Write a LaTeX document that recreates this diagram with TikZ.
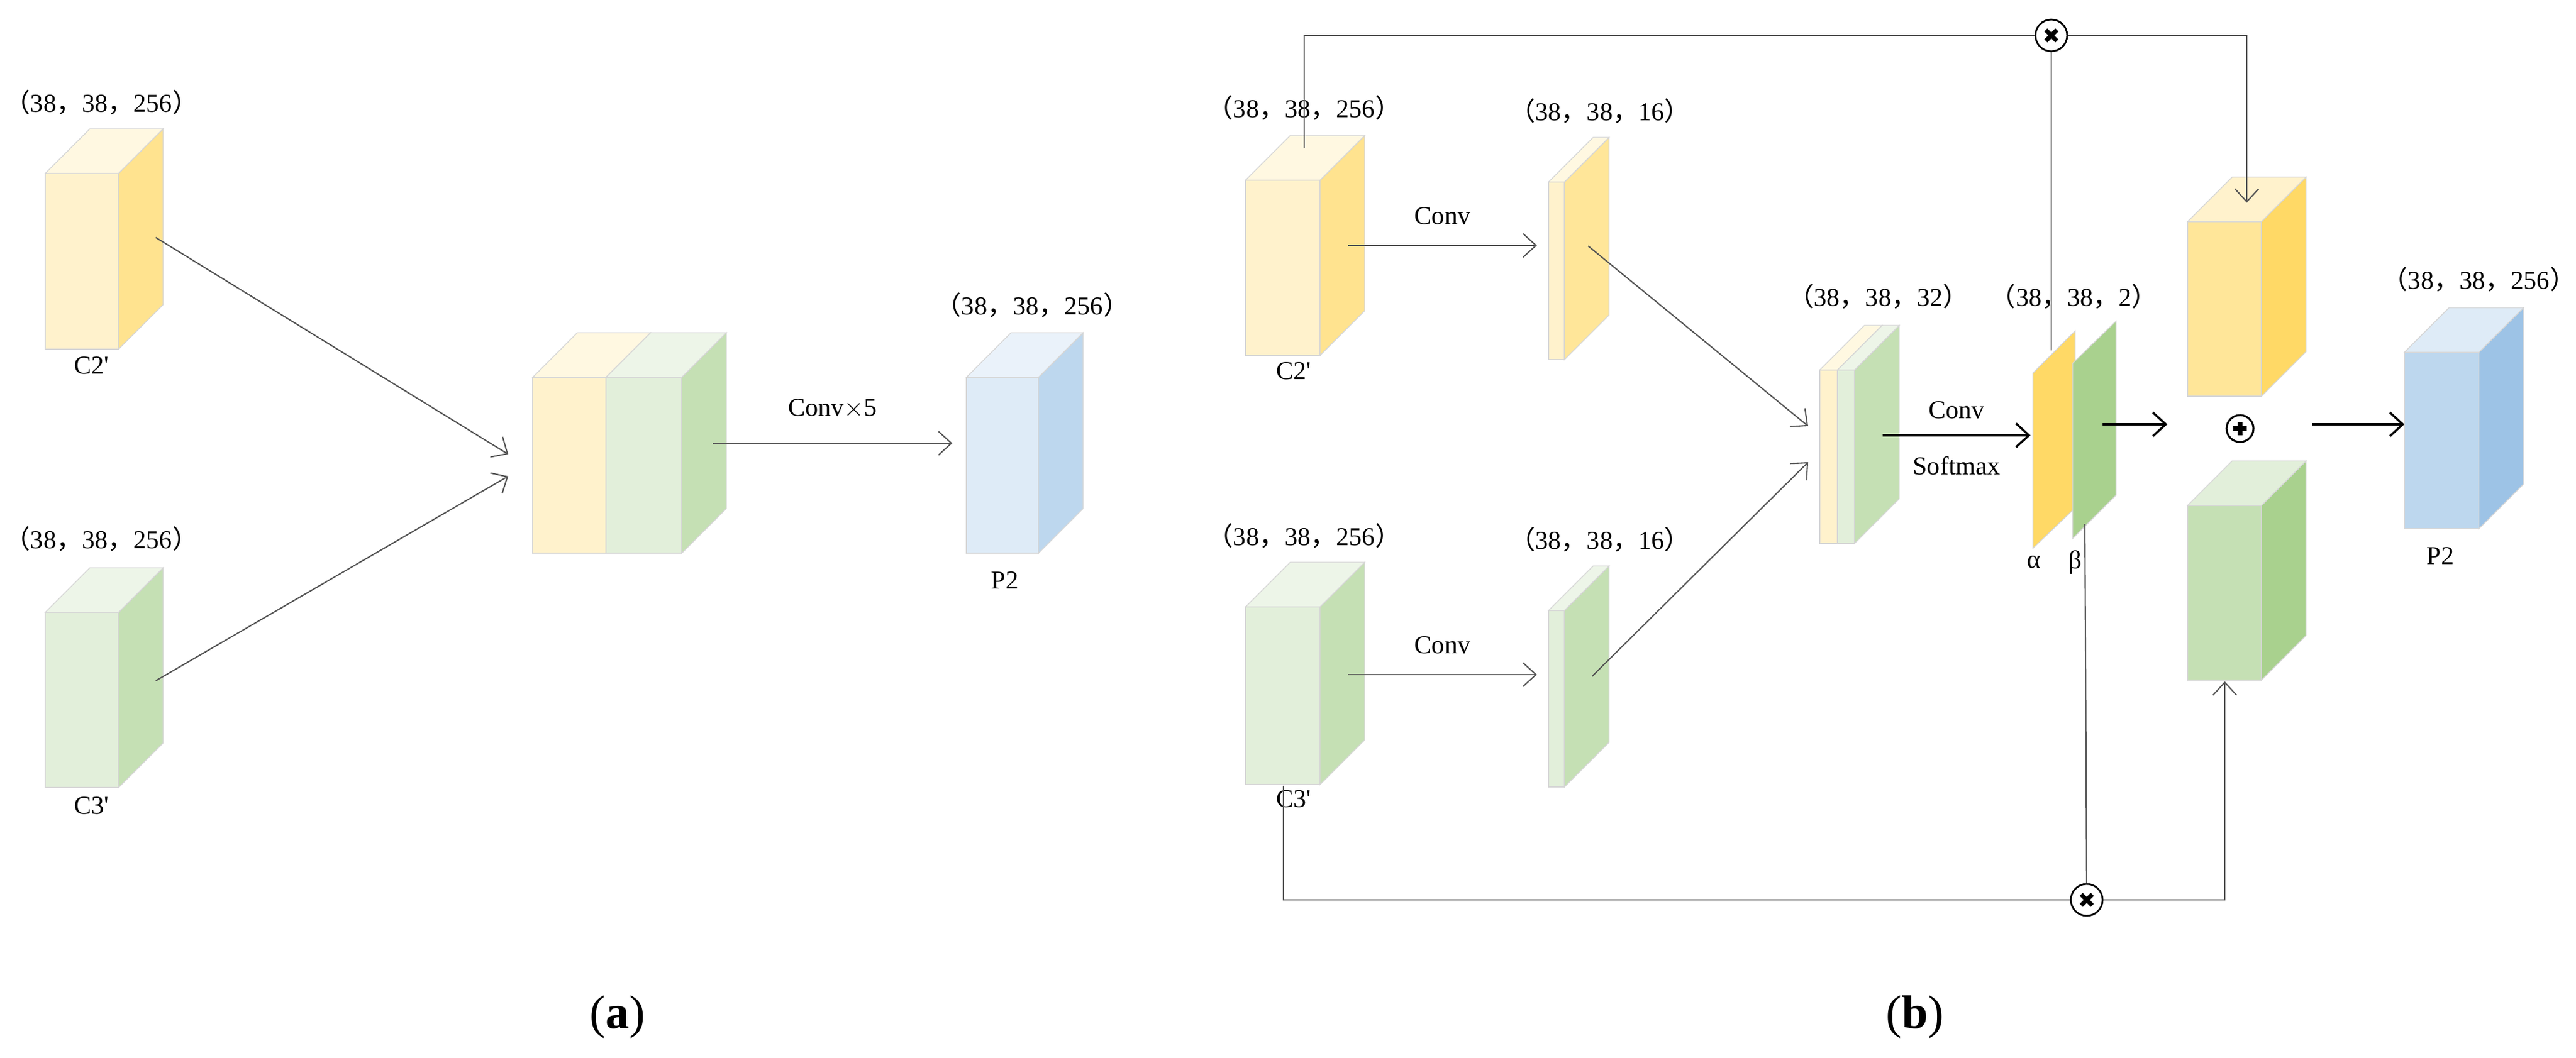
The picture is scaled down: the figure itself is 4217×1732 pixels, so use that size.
\documentclass[tikz,border=0pt]{standalone}
\usepackage{fontspec}
\setmainfont{Liberation Serif}
\newfontfamily\cjk{Noto Sans CJK SC}
\usetikzlibrary{arrows.meta,positioning}

\definecolor{ylfront}{HTML}{FFF2CC}
\definecolor{yltop}{HTML}{FFF8E1}
\definecolor{ylside}{HTML}{FFE38F}
\definecolor{ydfront}{HTML}{FFE699}
\definecolor{ydside}{HTML}{FFD966}
\definecolor{glfront}{HTML}{E2EFDA}
\definecolor{gltop}{HTML}{EDF5E8}
\definecolor{glside}{HTML}{C5E0B4}
\definecolor{gdside}{HTML}{A9D18E}
\definecolor{blfront}{HTML}{DEEBF7}
\definecolor{bltop}{HTML}{EAF2FA}
\definecolor{blside}{HTML}{BDD7EE}
\definecolor{bdside}{HTML}{9DC3E6}
\definecolor{edge}{HTML}{D6D6D6}
\definecolor{wire}{HTML}{555555}

\newcommand{\dims}[3]{{\cjk（}#1{\cjk，}#2{\cjk，}#3{\cjk）}}
% name, x, y, width, height, front, top, side
\newcommand{\cuboid}[8]{%
  \node [box, fill=#6, minimum width={#4*0.01cm}, minimum height={#5*0.01cm}] (#1) at (#2,#3) {};
  \filldraw [fill=#8, draw=edge] (#1.north east) -- ++(73,-73) -- ++(0,#5) -- (#1.south east) -- cycle;
  \filldraw [fill=#7, draw=edge] (#1.north west) -- ++(73,-73) -- ++(#4,0) -- (#1.north east) -- cycle;}

\begin{document}
\begin{tikzpicture}[x=0.01cm, y=-0.01cm, font=\fontsize{12}{14}\selectfont,
    box/.style={draw=edge, anchor=north west, inner sep=0pt, outer sep=0pt},
    line/.style={draw=wire, line width=0.6pt, -{Straight Barb[length=6pt,width=11pt]}},
    wire/.style={draw=wire, line width=0.6pt},
    times/.style={circle, draw, fill=white, line width=0.8pt, minimum size=0.52cm, inner sep=0pt,
      path picture={\draw [line width=2pt] (path picture bounding box.center) ++(-9,-9) -- ++(18,18)
        (path picture bounding box.center) ++(-9,9) -- ++(18,-18);}},
    plus/.style={circle, draw, fill=white, line width=0.9pt, minimum size=0.44cm, inner sep=0pt,
      path picture={\draw [line width=2.2pt] (path picture bounding box.center) ++(-11,0) -- ++(22,0)
        (path picture bounding box.center) ++(0,-11) -- ++(0,22);}}]
  \useasboundingbox (0,0) rectangle (4217,1732);

  % (a)
  \cuboid{c2a}{74}{284}{120}{288}{ylfront}{yltop}{ylside}
  \cuboid{c3a}{74}{1003}{120}{287}{glfront}{gltop}{glside}
  \cuboid{cata}{872}{618}{120}{288}{ylfront}{yltop}{ylside}
  \cuboid{catb}{992}{618}{124}{288}{glfront}{gltop}{glside}
  \cuboid{p2a}{1582}{618}{118}{288}{blfront}{bltop}{blside}

  \node (c2adim) at (166,168) {\dims{38}{38}{256}};
  \node (c3adim) at (166,883) {\dims{38}{38}{256}};
  \node (p2adim) at (1690,500) {\dims{38}{38}{256}};
  \node (c2alab) at (150,599) {C2\textquotesingle};
  \node (c3alab) at (150,1320) {C3\textquotesingle};
  \node (p2alab) at (1645,951) {P2};

  \coordinate (c2aout) at (255,389);
  \coordinate (c3aout) at (255,1115);
  \coordinate (catin1) at (832,744);
  \coordinate (catin2) at (832,780);
  \coordinate (catout) at (1167,726);
  \coordinate (p2ain) at (1559,726);
  \path [line] (c2aout) -- (catin1);
  \path [line] (c3aout) -- (catin2);
  \path [line] (catout) -- node [above=8pt] {Conv$\times$5} (p2ain);

  % (b)
  \cuboid{c2b}{2039}{295}{122}{287}{ylfront}{yltop}{ylside}
  \cuboid{c3b}{2039}{994}{122}{291}{glfront}{gltop}{glside}
  \cuboid{s2}{2535}{298}{26}{291}{ylfront}{yltop}{ydfront}
  \cuboid{s3}{2535}{1000}{26}{289}{glfront}{gltop}{glside}
  \cuboid{cby}{2979}{606}{29}{284}{ylfront}{yltop}{ylside}
  \cuboid{cbg}{3008}{606}{28}{284}{glfront}{gltop}{glside}
  \cuboid{yb}{3581}{363}{121}{286}{ydfront}{ylfront}{ydside}
  \cuboid{gb}{3581}{828}{121}{286}{glside}{glfront}{gdside}
  \cuboid{p2b}{3936}{577}{122}{289}{blside}{blfront}{bdside}

  \filldraw [fill=ydside, draw=edge] (3328,611) -- (3328,898) -- (3397,832) -- (3397,542) -- cycle;
  \filldraw [fill=gdside, draw=edge] (3393,595) -- (3393,882) -- (3464,811) -- (3464,526) -- cycle;
  \node (alpha) at (3330,921) {α};
  \node (beta) at (3397,921) {β};

  \node (c2bdim) at (2135,177) {\dims{38}{38}{256}};
  \node (c3bdim) at (2135,878) {\dims{38}{38}{256}};
  \node (s2dim) at (2619,182) {\dims{38}{38}{16}};
  \node (s3dim) at (2619,884) {\dims{38}{38}{16}};
  \node (catdim) at (3075,486) {\dims{38}{38}{32}};
  \node (abdim) at (3395,486) {\dims{38}{38}{2}};
  \node (p2bdim) at (4058,458) {\dims{38}{38}{256}};
  \node (c2blab) at (2118,608) {C2\textquotesingle};
  \node (c3blab) at (2118,1309) {C3\textquotesingle};
  \node (p2blab) at (3995,911) {P2};

  \node [times] (otop) at (3358,58) {};
  \node [times] (obot) at (3416,1474) {};
  \node [plus] (oplus) at (3667,702) {};

  \coordinate (c2bup) at (2135,243);
  \coordinate (c3bdn) at (2101,1287);
  \coordinate (ybin) at (3678,332);
  \coordinate (gbin) at (3642,1116);
  \coordinate (alphatop) at (3358,574);
  \coordinate (betabot) at (3413,858);
  \path [wire] (c2bup) |- (otop);
  \path [line] (otop) -| (ybin);
  \path [wire] (otop) -- (alphatop);
  \path [wire] (c3bdn) |- (obot);
  \path [line] (obot) -| (gbin);
  \path [wire] (betabot) -- (obot);

  \path [line] (2207,402) coordinate (c2bout) -- node [above=6pt] {Conv} (2516,402) coordinate (s2in);
  \path [line] (2207,1105) coordinate (c3bout) -- node [above=6pt] {Conv} (2516,1105) coordinate (s3in);
  \coordinate (s2out) at (2600,403);
  \coordinate (s3out) at (2606,1108);
  \coordinate (cbin1) at (2960,698);
  \coordinate (cbin2) at (2960,757);
  \path [line] (s2out) -- (cbin1);
  \path [line] (s3out) -- (cbin2);
  \coordinate (cbout) at (3082,713);
  \coordinate (alphain) at (3324,713);
  \path [line, draw=black, line width=1pt] (cbout) -- node [above=4pt] {Conv} node [below=6pt] {Softmax} (alphain);
  \coordinate (betaout) at (3442,695);
  \coordinate (plusin) at (3548,695);
  \coordinate (plusout) at (3785,695);
  \path [line, draw=black, line width=1pt] (betaout) -- (plusin);
  \path [line, draw=black, line width=1pt] (plusout) -- (p2b.west |- plusout);

  \node [font=\fontsize{22}{26}\selectfont] (capa) at (1011,1666) {(\textbf{a})};
  \node [font=\fontsize{22}{26}\selectfont] (capb) at (3135,1666) {(\textbf{b})};
\end{tikzpicture}
\end{document}
